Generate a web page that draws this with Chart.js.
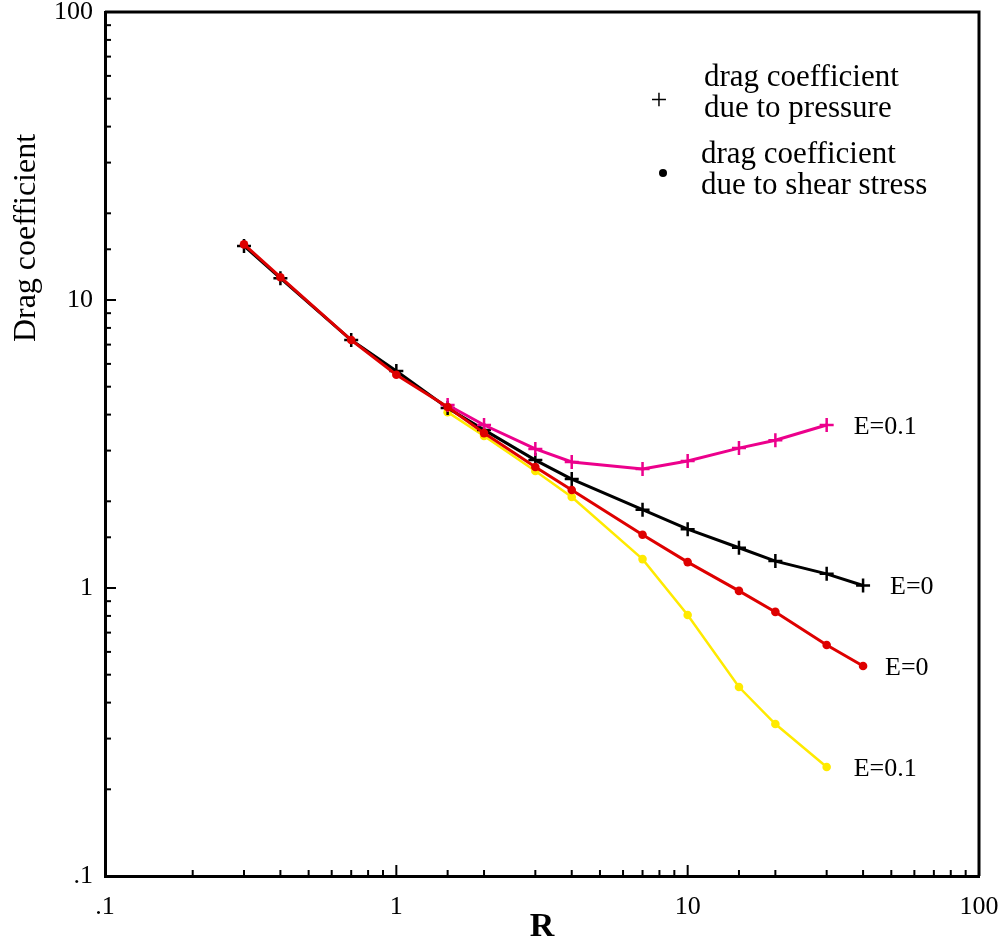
<!DOCTYPE html>
<html>
<head>
<meta charset="utf-8">
<title>Drag coefficient</title>
<script src="https://cdn.jsdelivr.net/npm/chart.js@4.4.0/dist/chart.umd.min.js"></script>
<style>
  body { margin: 0; background: #fff; }
  canvas { display: block; }
</style>
</head>
<body>
<canvas id="myChart" width="1006" height="948"></canvas>
<script>
// Reynolds numbers R at which the coefficients were computed
const reAll = [0.3, 0.4, 0.7, 1, 1.5, 2, 3, 4, 7, 10, 15, 20, 30, 40];
const reHigh = [1.5, 2, 3, 4, 7, 10, 15, 20, 30];

// drag coefficient
const pressureE0 = [15.4, 11.9, 7.26, 5.67, 4.22, 3.54, 2.78, 2.39, 1.87, 1.60, 1.38, 1.24, 1.12, 1.02];
const shearE0 = [15.6, 12.0, 7.26, 5.5, 4.25, 3.45, 2.63, 2.19, 1.53, 1.23, 0.977, 0.826, 0.634, 0.536];
const pressureE01 = [4.32, 3.68, 3.04, 2.74, 2.59, 2.76, 3.06, 3.26, 3.68];
const shearE01 = [4.08, 3.37, 2.55, 2.07, 1.26, 0.806, 0.453, 0.337, 0.239];

const curveNames = ['E=0', 'E=0.1', 'E=0', 'E=0.1'];
const decades = [0.1, 1, 10, 100];
const decadeText = ['.1', '1', '10', '100'];

const serif = "'Liberation Serif', 'Times New Roman', serif";
const red = 'rgb(222,0,0)';
const pink = 'rgb(236,0,140)';
const yellow = 'rgb(255,234,0)';
const labelDx = [22, 27, 27, 27];

Chart.defaults.font.family = serif;
Chart.defaults.color = '#000';

function isDecade(v) {
  const l = Math.log10(v);
  return Math.abs(l - Math.round(l)) < 1e-6;
}

function decadeLabel(v) {
  if (!isDecade(v)) return '';
  const i = decades.findIndex(d => Math.abs(d - v) < 1e-9);
  return i >= 0 ? decadeText[i] : '';
}

function toPoints(xs, ys) {
  return xs.map((x, i) => ({ x: x, y: ys[i] }));
}

const frame = {
  id: 'frame',
  afterDraw(chart) {
    const ctx = chart.ctx;
    const area = chart.chartArea;
    const xs = chart.scales.x;
    const ys = chart.scales.y;
    ctx.save();
    ctx.strokeStyle = '#000';

    // top and right edges of the box
    ctx.lineWidth = 3;
    ctx.beginPath();
    ctx.moveTo(area.left, area.top);
    ctx.lineTo(area.right, area.top);
    ctx.lineTo(area.right, area.bottom);
    ctx.stroke();

    // inward tick marks
    ctx.lineWidth = 2;
    xs.ticks.forEach(t => {
      const px = xs.getPixelForValue(t.value);
      const len = isDecade(t.value) ? 11 : 6;
      ctx.beginPath();
      ctx.moveTo(px, area.bottom);
      ctx.lineTo(px, area.bottom - len);
      ctx.stroke();
    });
    ys.ticks.forEach(t => {
      const py = ys.getPixelForValue(t.value);
      const len = isDecade(t.value) ? 11 : 6;
      ctx.beginPath();
      ctx.moveTo(area.left, py);
      ctx.lineTo(area.left + len, py);
      ctx.stroke();
    });

    // y axis title
    ctx.fillStyle = '#000';
    ctx.font = '32px ' + serif;
    ctx.textAlign = 'center';
    ctx.textBaseline = 'middle';
    ctx.save();
    ctx.translate(27, 238);
    ctx.rotate(-Math.PI / 2);
    ctx.fillText('Drag coefficient', 0, 0);
    ctx.restore();

    // curve end labels
    ctx.font = '26px ' + serif;
    ctx.textAlign = 'left';
    chart.data.datasets.forEach((ds, i) => {
      const last = ds.data[ds.data.length - 1];
      const px = xs.getPixelForValue(last.x);
      const py = ys.getPixelForValue(last.y);
      ctx.fillText(curveNames[i], px + labelDx[i], py + 2);
    });

    // legend
    ctx.textBaseline = 'alphabetic';
    ctx.font = '31px ' + serif;
    ctx.fillText('drag coefficient', 704, 86);
    ctx.fillText('due to pressure', 704, 117);
    ctx.fillText('drag coefficient', 701, 163);
    ctx.fillText('due to shear stress', 701, 194);
    ctx.textAlign = 'center';
    ctx.textBaseline = 'middle';
    ctx.font = '30px ' + serif;
    ctx.fillText('+', 659, 101);
    ctx.beginPath();
    ctx.arc(663, 173, 4, 0, Math.PI * 2);
    ctx.fill();
    ctx.restore();
  }
};

const ctx = document.getElementById('myChart').getContext('2d');
const chart = new Chart(ctx, {
  type: 'line',
  data: {
    datasets: [
      {
        label: 'shear stress, E=0',
        data: toPoints(reAll, shearE0),
        borderColor: red,
        backgroundColor: red,
        borderWidth: 3,
        pointStyle: 'circle',
        pointRadius: 4.3,
        pointBorderWidth: 0,
      },
      {
        label: 'pressure, E=0.1',
        data: toPoints(reHigh, pressureE01),
        borderColor: pink,
        backgroundColor: pink,
        borderWidth: 3,
        pointStyle: 'cross',
        pointRadius: 7,
        pointBorderWidth: 2.5,
      },
      {
        label: 'pressure, E=0',
        data: toPoints(reAll, pressureE0),
        borderColor: '#000',
        backgroundColor: '#000',
        borderWidth: 3,
        pointStyle: 'cross',
        pointRadius: 7,
        pointBorderWidth: 2.5,
      },
      {
        label: 'shear stress, E=0.1',
        data: toPoints(reHigh, shearE01),
        borderColor: yellow,
        backgroundColor: yellow,
        borderWidth: 2.5,
        pointStyle: 'circle',
        pointRadius: 4.3,
        pointBorderWidth: 0,
      },
    ],
  },
  options: {
    responsive: false,
    animation: false,
    events: [],
    layout: { padding: { top: 12, right: 27, left: 0, bottom: 0 } },
    plugins: {
      legend: { display: false },
      tooltip: { enabled: false },
    },
    scales: {
      x: {
        type: 'logarithmic',
        min: 0.1,
        max: 100,
        grid: { display: false, drawTicks: false },
        border: { display: true, width: 3, color: '#000' },
        ticks: {
          autoSkip: false,
          maxRotation: 0,
          padding: 16,
          font: { size: 26 },
          callback: v => decadeLabel(v),
        },
        title: {
          display: true,
          text: 'R',
          font: { size: 34, weight: 'bold' },
          padding: { top: 0, bottom: 0 },
        },
        afterFit(s) {
          s.height = 72;
          s.paddingLeft = 0;
          s.paddingRight = 0;
        },
      },
      y: {
        type: 'logarithmic',
        min: 0.1,
        max: 100,
        grid: { display: false, drawTicks: false },
        border: { display: true, width: 3, color: '#000' },
        ticks: {
          autoSkip: false,
          padding: 12,
          font: { size: 26 },
          callback: v => decadeLabel(v),
        },
        afterFit(s) {
          s.width = 105;
          s.paddingTop = 0;
          s.paddingBottom = 0;
        },
      },
    },
  },
  plugins: [frame],
});
</script>
</body>
</html>
